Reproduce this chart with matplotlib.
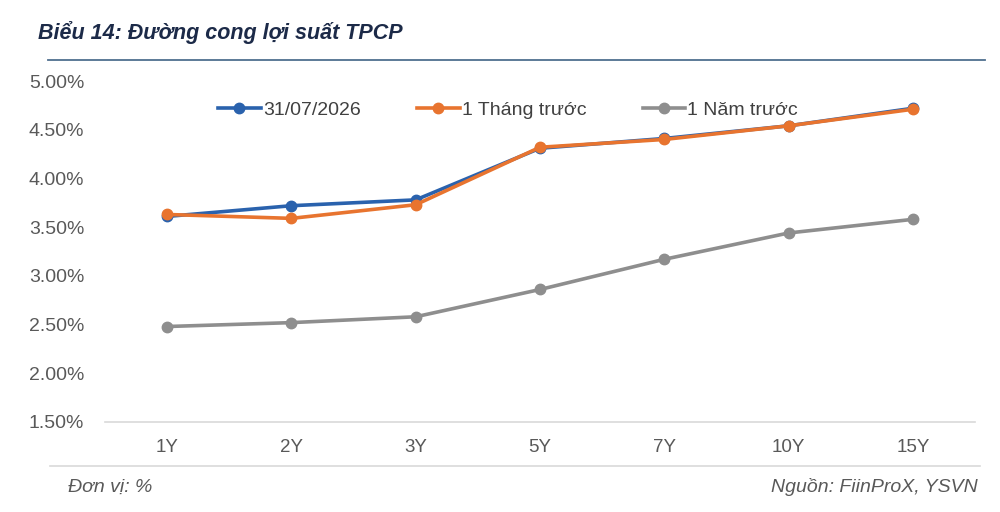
import matplotlib
matplotlib.use("Agg")
import matplotlib.pyplot as plt
from matplotlib.ticker import FuncFormatter
from matplotlib.lines import Line2D

plt.rcParams['font.family'] = ['Liberation Sans', 'DejaVu Sans']

tenors = ["1Y", "2Y", "3Y", "5Y", "7Y", "10Y", "15Y"]
current = [3.61, 3.72, 3.78, 4.31, 4.41, 4.54, 4.72]
month_ago = [3.63, 3.59, 3.73, 4.32, 4.40, 4.54, 4.71]
year_ago = [2.48, 2.52, 2.58, 2.86, 3.17, 3.44, 3.58]
series_names = ["31/07/2026", "1 Tháng trước", "1 Năm trước"]
yticks = [1.5, 2.0, 2.5, 3.0, 3.5, 4.0, 4.5, 5.0]

c_blue = "#2a62ad"
c_orange = "#e8742f"
c_gray = "#8e8e8e"

fig = plt.figure(figsize=(10, 5.12), dpi=100)
ax = fig.add_axes([0.105, 1 - 422 / 512, 0.87, (422 - 81) / 512])

x = list(range(len(tenors)))
kw = dict(lw=2.6, marker="o", ms=7.5, solid_capstyle="round")
ax.plot(x, year_ago, color=c_gray, **kw)
ax.plot(x, current, color=c_blue, **kw)
ax.plot(x, month_ago, color=c_orange, **kw)

ax.set_xlim(-0.5, len(tenors) - 0.5)
ax.set_ylim(1.5, 5.0)
ax.set_xticks(x)
ax.set_xticklabels(tenors)
ax.set_yticks(yticks)
ax.yaxis.set_major_formatter(FuncFormatter(lambda v, p: f"{v:.2f}%"))
ax.tick_params(axis="both", length=0, labelsize=14, labelcolor="#595959")
ax.tick_params(axis="x", pad=12, labelsize=13.5)
ax.tick_params(axis="y", pad=15)
for s in ["top", "right", "left"]:
    ax.spines[s].set_visible(False)
ax.spines["bottom"].set_color("#d9d9d9")
ax.spines["bottom"].set_linewidth(1.2)

handles = [
    Line2D([], [], color=c_blue, lw=2.6, marker="o", ms=7.5),
    Line2D([], [], color=c_orange, lw=2.6, marker="o", ms=7.5),
    Line2D([], [], color=c_gray, lw=2.6, marker="o", ms=7.5),
]
leg = fig.legend(handles, series_names, loc="center", bbox_to_anchor=(0.508, 1 - 110 / 512),
                 ncol=3, frameon=False, fontsize=14, handlelength=2.2, handletextpad=0.1,
                 columnspacing=2.9)
for t in leg.get_texts():
    t.set_color("#404040")

fig.text(0.038, 1 - 32 / 512, "Biểu 14: Đường cong lợi suất TPCP", fontsize=15.5,
         fontweight="bold", fontstyle="italic", color="#1c2a48", va="center", ha="left")
fig.add_artist(Line2D([0.048, 0.985], [1 - 60 / 512, 1 - 60 / 512], color="#4f6f8f", lw=1.3))
fig.add_artist(Line2D([0.05, 0.98], [1 - 466 / 512, 1 - 466 / 512], color="#d9d9d9", lw=1.2))
fig.text(0.068, 1 - 487 / 512, "Đơn vị: %", fontsize=14, fontstyle="italic",
         color="#595959", va="center", ha="left")
fig.text(0.978, 1 - 487 / 512, "Nguồn: FiinProX, YSVN", fontsize=14, fontstyle="italic",
         color="#595959", va="center", ha="right")

fig.savefig("out.png", dpi=100)
